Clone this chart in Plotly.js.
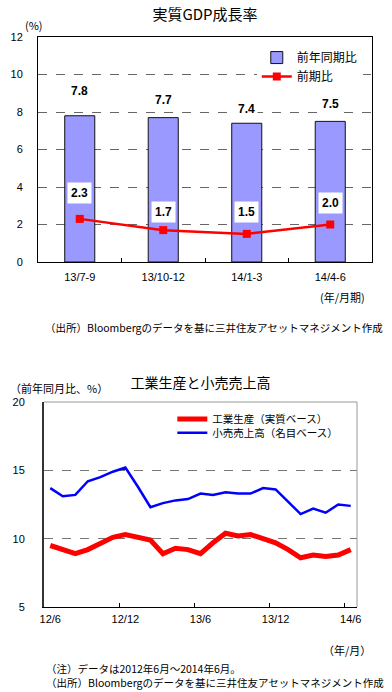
<!DOCTYPE html>
<html><head><meta charset="utf-8">
<script src="https://cdn.plot.ly/plotly-3.0.1.min.js"></script>
<style>
html,body{margin:0;padding:0;background:#fff;width:392px;height:692px;overflow:hidden}
#c1{position:absolute;left:0;top:0;width:392px;height:345px}
#c2{position:absolute;left:0;top:345px;width:392px;height:347px}
</style></head><body>
<div id="c1"></div><div id="c2"></div>
<script>
// ---- Chart 1 data ----
const quarters = ['13/7-9', '13/10-12', '14/1-3', '14/4-6'];
const yoy = [7.8, 7.7, 7.4, 7.5];
const qoq = [2.3, 1.7, 1.5, 2.0];
// ---- Chart 2 data ----
const months = ['12/6','12/7','12/8','12/9','12/10','12/11','12/12',
  '13/1','13/2','13/3','13/4','13/5','13/6','13/7','13/8','13/9','13/10','13/11','13/12',
  '14/1','14/2','14/3','14/4','14/5','14/6'];
const indProd = [9.5, 9.2, 8.9, 9.2, 9.6, 10.1, 10.3, 10.1, 9.9, 8.9, 9.3, 9.2, 8.9,
  9.7, 10.4, 10.2, 10.3, 10.0, 9.7, 9.2, 8.6, 8.8, 8.7, 8.8, 9.2];
const retail = [13.7, 13.1, 13.2, 14.2, 14.5, 14.9, 15.2, 13.8, 12.3, 12.6, 12.8, 12.9, 13.3,
  13.2, 13.4, 13.3, 13.3, 13.7, 13.6, 12.7, 11.8, 12.2, 11.9, 12.5, 12.4];
const monthTicks = ['12/6','12/12','13/6','13/12','14/6'];

const FONT = 'Liberation Sans, Arial, "Noto Sans CJK JP", sans-serif';
const JFONT = '"Noto Sans CJK JP", "Liberation Sans", sans-serif';

// label pixel offsets (style only)
const yoyShift = [25, 18, 14, 17];
const qoqShift = [26, 18, 22, 22];

const ann1 = [];
quarters.forEach((q, i) => {
  ann1.push({x: q, y: yoy[i], xref: 'x', yref: 'y', text: yoy[i].toFixed(1), showarrow: false,
    yshift: yoyShift[i], font: {family: FONT, size: 12, color: '#000', weight: 'bold'}, bgcolor: '#fff', borderpad: 2});
  ann1.push({x: q, y: qoq[i], xref: 'x', yref: 'y', text: qoq[i].toFixed(1), showarrow: false,
    yshift: qoqShift[i], font: {family: FONT, size: 12, color: '#000', weight: 'bold'}, bgcolor: '#fff', borderpad: 3});
});
ann1.push({xref: 'paper', yref: 'paper', x: -0.012, y: 1.053, xanchor: 'center', yanchor: 'middle', text: '(%)', showarrow: false,
  font: {family: JFONT, size: 11, color: '#000'}});
ann1.push({xref: 'paper', yref: 'paper', x: 0.985, y: -0.154, xanchor: 'right', yanchor: 'middle', text: '(年/月期)', showarrow: false,
  font: {family: JFONT, size: 11, color: '#000'}});
ann1.push({xref: 'paper', yref: 'paper', x: 0.015, y: -0.289, xanchor: 'left', yanchor: 'middle',
  text: '（出所）Bloombergのデータを基に三井住友アセットマネジメント作成', showarrow: false,
  font: {family: JFONT, size: 10.5, color: '#000'}});

const trace1 = {type: 'bar', x: quarters, y: yoy, name: '前年同期比', width: 0.36,
  marker: {color: '#9999FF', line: {color: '#111', width: 1}}};
const trace2 = {type: 'scatter', mode: 'lines+markers', x: quarters, y: qoq, name: '前期比',
  line: {color: '#FF0000', width: 2.5}, marker: {symbol: 'square', size: 8, color: '#FF0000'}};

const layout1 = {
  width: 392, height: 345, margin: {l: 38, r: 20, t: 37, b: 83},
  paper_bgcolor: '#fff', plot_bgcolor: '#fff',
  font: {family: FONT, size: 11, color: '#000'},
  title: {text: '実質GDP成長率', font: {family: JFONT, size: 15, color: '#000'},
    x: 0.5, xref: 'paper', y: 0.957, yref: 'container', yanchor: 'middle'},
  showlegend: true,
  legend: {x: 0.655, y: 0.973, xanchor: 'left', yanchor: 'top', bgcolor: '#fff',
    font: {family: JFONT, size: 12, color: '#000'}, tracegroupgap: 0, traceorder: 'normal'},
  xaxis: {type: 'category', tickson: 'boundaries', ticks: 'inside', ticklen: 4, tickcolor: '#000',
    showline: true, linecolor: '#000', linewidth: 1, mirror: true, showgrid: false,
    tickfont: {family: FONT, size: 11}, ticklabelstandoff: 5, range: [-0.5, 3.5]},
  yaxis: {range: [0, 12], dtick: 2, showline: true, linecolor: '#000', linewidth: 1, mirror: true,
    showgrid: true, gridcolor: '#666', griddash: 'dash', gridwidth: 1, ticks: '', zeroline: false,
    tickfont: {family: FONT, size: 11}, ticklabelstandoff: 12},
  annotations: ann1
};
Plotly.newPlot('c1', [trace1, trace2], layout1, {displayModeBar: false, staticPlot: true});

// ---- Chart 2 ----
const t3 = {type: 'scatter', mode: 'lines', x: months, y: indProd, name: '工業生産（実質ベース）',
  line: {color: '#FF0000', width: 5}, legend: 'legend'};
const t4 = {type: 'scatter', mode: 'lines', x: months, y: retail, name: '小売売上高（名目ベース）',
  line: {color: '#0000FF', width: 2.5}, legend: 'legend2'};
const legFont = {family: JFONT, size: 10.5, color: '#000'};
const layout2 = {
  width: 392, height: 347, margin: {l: 44, r: 35, t: 57, b: 85},
  paper_bgcolor: '#fff', plot_bgcolor: '#fff',
  font: {family: FONT, size: 11, color: '#000'},
  title: {text: '工業生産と小売売上高', font: {family: JFONT, size: 14, color: '#000'},
    x: 0.5, xref: 'paper', y: 1 - 38/347, yref: 'container', yanchor: 'middle'},
  showlegend: true,
  legend: {x: 0.41, y: 0.917, xanchor: 'left', yanchor: 'middle', bgcolor: 'rgba(0,0,0,0)', font: legFont},
  legend2: {x: 0.41, y: 0.850, xanchor: 'left', yanchor: 'middle', bgcolor: 'rgba(0,0,0,0)', font: legFont},
  xaxis: {type: 'category', tickmode: 'array', tickvals: monthTicks, ticktext: monthTicks,
    tickson: 'boundaries', ticks: 'inside', ticklen: 4, tickcolor: '#000', showgrid: false, tickangle: 0,
    showline: true, linecolor: '#000', linewidth: 1, range: [-0.5, 24.5],
    tickfont: {family: FONT, size: 11}, ticklabelstandoff: 2},
  yaxis: {range: [5, 20], dtick: 5, showline: true, linecolor: '#333', linewidth: 2,
    showgrid: true, gridcolor: '#777', griddash: 'dash', gridwidth: 1, ticks: '', zeroline: false,
    tickfont: {family: FONT, size: 11}, ticklabelstandoff: 15},
  shapes: [
    {type: 'line', xref: 'paper', yref: 'paper', x0: 0, x1: 1, y0: 1, y1: 1, line: {color: '#999', width: 1}},
    {type: 'line', xref: 'paper', yref: 'paper', x0: 1, x1: 1, y0: 0, y1: 1, line: {color: '#999', width: 1}}
  ],
  annotations: [
    {xref: 'paper', yref: 'paper', x: -0.115, y: 1.068, xanchor: 'left', yanchor: 'middle', text: '（前年同月比、%）', showarrow: false,
      font: {family: JFONT, size: 11, color: '#000'}},
    {xref: 'paper', yref: 'paper', x: 1.051, y: -0.21, xanchor: 'right', yanchor: 'middle', text: '（年/月）', showarrow: false,
      font: {family: JFONT, size: 11, color: '#000'}},
    {xref: 'paper', yref: 'paper', x: 0.003, y: -0.412, xanchor: 'left', yanchor: 'bottom', align: 'left',
      text: '（注）データは2012年6月～2014年6月。<br>（出所）Bloombergのデータを基に三井住友アセットマネジメント作成', showarrow: false,
      borderpad: 0, font: {family: JFONT, size: 10.5, color: '#000'}}
  ]
};
Plotly.newPlot('c2', [t3, t4], layout2, {displayModeBar: false, staticPlot: true});
</script></body></html>
